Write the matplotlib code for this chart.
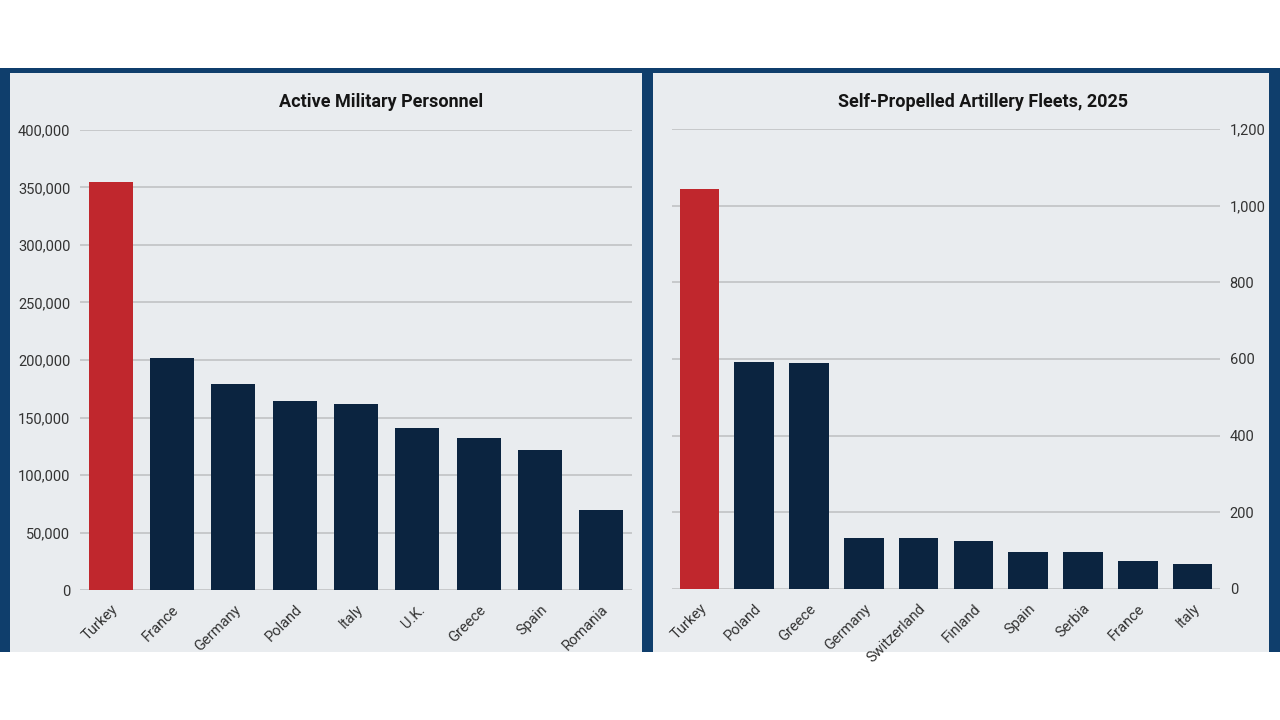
import matplotlib
matplotlib.use("Agg")
import matplotlib.pyplot as plt
from matplotlib.patches import Rectangle
from matplotlib.ticker import FuncFormatter

plt.rcParams["font.family"] = ["Roboto", "DejaVu Sans"]

# --- data ---
personnel_countries = ["Turkey", "France", "Germany", "Poland", "Italy",
                       "U.K.", "Greece", "Spain", "Romania"]
personnel_values = [355000, 202000, 179500, 164000, 162000,
                    141000, 132000, 122000, 69500]
personnel_ticks = [0, 50000, 100000, 150000, 200000, 250000, 300000, 350000, 400000]

artillery_countries = ["Turkey", "Poland", "Greece", "Germany", "Switzerland",
                       "Finland", "Spain", "Serbia", "France", "Italy"]
artillery_values = [1044, 592, 589, 134, 132, 124, 96, 96, 74, 64]
artillery_ticks = [0, 200, 400, 600, 800, 1000, 1200]

RED = "#c0272d"
NAVY = "#0b2440"
PANEL = "#e9ecef"
FRAME = "#0f3e6c"
GRID = "#c4c6c8"
TEXT = "#333333"

W, H = 1280, 720


def px(x0, y0, x1, y1):
    # pixel box (top-left origin) -> figure fraction [left, bottom, width, height]
    return [x0 / W, (H - y1) / H, (x1 - x0) / W, (y1 - y0) / H]


fig = plt.figure(figsize=(12.8, 7.2), dpi=100, facecolor="white")

# frame and panels
for box, col in [((0, 68, 1280, 652), FRAME),
                 ((10, 73, 642, 652), PANEL),
                 ((653, 73, 1269, 652), PANEL)]:
    l, b, w, h = px(*box)
    fig.add_artist(Rectangle((l, b), w, h, transform=fig.transFigure,
                             facecolor=col, edgecolor="none", zorder=0))


def style_axis(ax, names, values, ticks, side):
    colors = [RED] + [NAVY] * (len(values) - 1)
    ax.bar(range(len(values)), values, width=0.72, color=colors, zorder=3)
    ax.set_xlim(-0.5, len(values) - 0.5)
    ax.set_ylim(ticks[0], ticks[-1])
    ax.set_yticks(ticks)
    ax.yaxis.set_major_formatter(FuncFormatter(lambda v, p: f"{int(v):,}"))
    ax.grid(axis="y", color=GRID, linewidth=1.3, zorder=1)
    ax.set_axisbelow(True)
    ax.patch.set_visible(False)
    for s in ax.spines.values():
        s.set_visible(False)
    ax.set_xticks(range(len(names)))
    ax.set_xticklabels(names, rotation=45, ha="right", va="top",
                       rotation_mode="anchor", fontsize=10.5, color=TEXT)
    ax.tick_params(axis="x", length=0, pad=9)
    ax.tick_params(axis="y", length=0, pad=7, labelsize=10.5, labelcolor=TEXT)
    if side == "right":
        ax.yaxis.tick_right()


ax1 = fig.add_axes(px(80, 130, 632, 590))
style_axis(ax1, personnel_countries, personnel_values, personnel_ticks, "left")
fig.text(381 / W, 1 - 102 / H, "Active Military Personnel", ha="center",
         va="center", fontsize=13, fontweight="bold", color="#151515")

ax2 = fig.add_axes(px(672, 129, 1220, 589))
style_axis(ax2, artillery_countries, artillery_values, artillery_ticks, "right")
fig.text(983 / W, 1 - 102 / H, "Self-Propelled Artillery Fleets, 2025", ha="center",
         va="center", fontsize=13, fontweight="bold", color="#151515")

fig.savefig("out.png", dpi=100, facecolor="white")
